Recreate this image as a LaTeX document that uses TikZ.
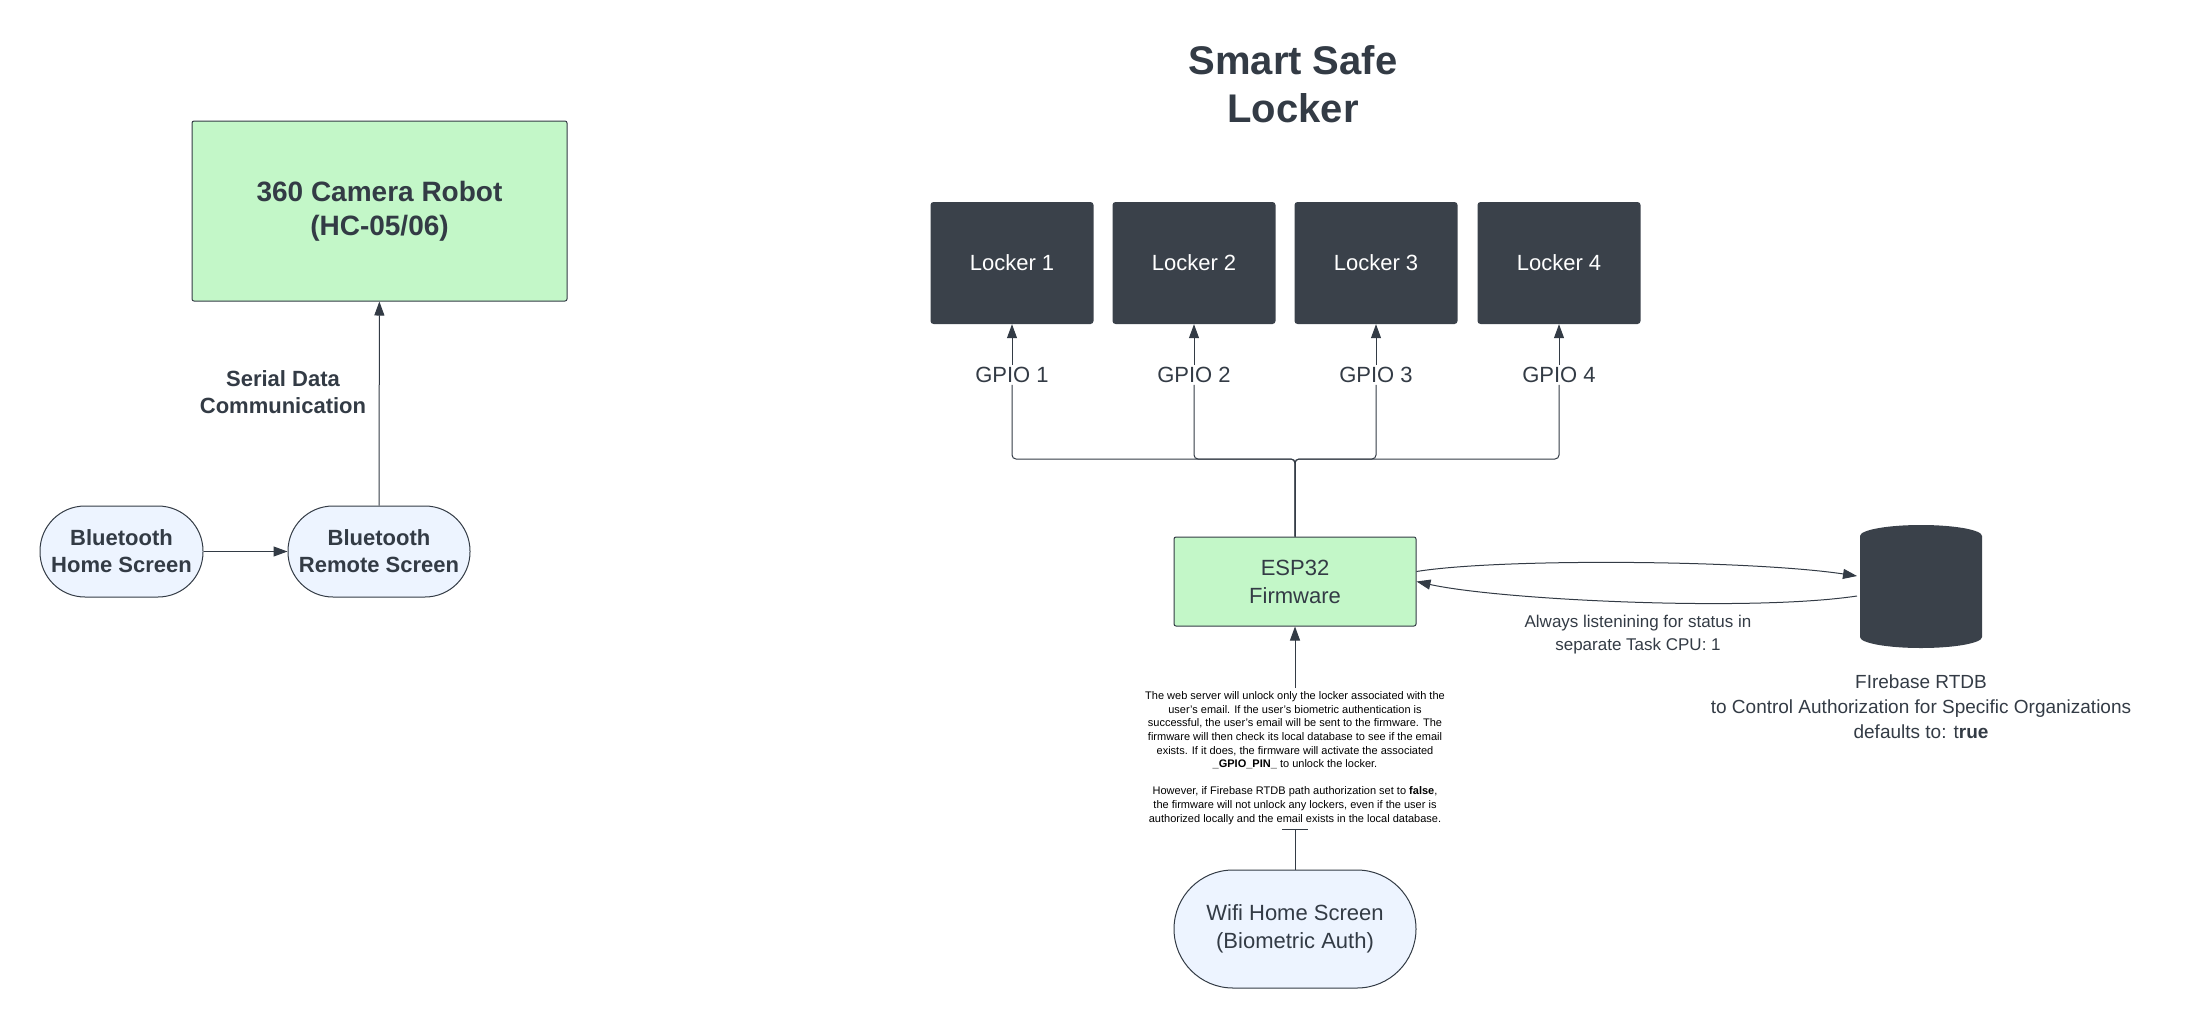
\documentclass[tikz,border=0pt]{standalone}
\usepackage{fontspec}
\setmainfont{Liberation Sans}
\usetikzlibrary{arrows.meta,shapes.geometric}
\definecolor{grn}{HTML}{C3F7C8}
\definecolor{lbl}{HTML}{EDF4FF}
\definecolor{drk}{HTML}{3A414A}
\definecolor{txt}{HTML}{333B45}
\begin{document}
\begin{tikzpicture}[x=1pt,y=-1pt,
  every node/.style={text=txt,align=center},
  ln/.style={draw=txt,line width=1pt},
  arr/.style={ln,-{Triangle[length=14pt,width=10pt]}},
  pill/.style={draw=txt,line width=1pt,fill=lbl,rounded corners=44pt,inner sep=0pt},
  grnbox/.style={draw=txt,line width=1pt,fill=grn,rounded corners=2pt,inner sep=0pt},
  locker/.style={fill=drk,rounded corners=3pt,minimum width=163pt,minimum height=122pt,text=white,font=\fontsize{22}{26}\selectfont},
  gp/.style={font=\fontsize{22}{26}\selectfont}]
\useasboundingbox (0,0) rectangle (2200,1017);
% left
\node[grnbox,minimum width=375pt,minimum height=180pt,font=\bfseries\fontsize{28}{34}\selectfont] (cam) at (379.5,211) {360 Camera Robot\\(HC-05/06)};
\node[pill,minimum width=163pt,minimum height=91pt,rounded corners=45pt,font=\bfseries\fontsize{22}{27}\selectfont] (bh) at (121.5,551.5) {Bluetooth\\Home Screen};
\node[pill,minimum width=182pt,minimum height=91pt,rounded corners=45pt,font=\bfseries\fontsize{22}{27}\selectfont] (br) at (379,551.5) {Bluetooth\\Remote Screen};
\draw[arr] (bh) -- (br);
\draw[arr] (br) -- (cam);
\node[font=\bfseries\fontsize{22}{27}\selectfont] (sd) at (283,392) {Serial Data\\Communication};
% title
\node[font=\bfseries\fontsize{40}{48}\selectfont] (title) at (1293,84) {Smart Safe\\Locker};
% lockers
\foreach \i/\x in {1/1012,2/1194,3/1376,4/1559}{
  \node[locker] (L\i) at (\x,263) {Locker \i};
  \node[gp,fill=white,inner sep=2pt] (G\i) at (\x,375) {GPIO \i};
}
\node[grnbox,minimum width=242pt,minimum height=89pt,font=\fontsize{22}{28}\selectfont] (esp) at (1295,581.5) {ESP32\\Firmware};
\coordinate (bus) at (1295,459);
\foreach \i in {1,...,4}{
  \draw[ln,rounded corners=4pt] (esp.north) -- (bus) -| (G\i.south);
  \draw[arr] (G\i.north) -- (L\i.south);
}
% database
\node[minimum width=122pt,minimum height=123pt,inner sep=0pt] (db) at (1921,586) {};
\fill[drk] (1860,536) arc[start angle=180,end angle=0,x radius=61,y radius=-11] -- (1982,637) arc[start angle=0,end angle=-180,x radius=61,y radius=-11] -- cycle;
\draw[arr] (esp.east) ++(0,-10) coordinate (e1) .. controls (1500,558) and (1750,560) .. (1857,576);
\draw[arr] (1857,596) .. controls (1750,612) and (1500,600) .. (esp.east);
\node[font=\fontsize{19}{25}\selectfont] (dbl) at (1921,707) {FIrebase RTDB\\to Control Authorization for Specific Organizations\\defaults to: t\textbf{rue}};
\node[font=\fontsize{17}{23}\selectfont] (al) at (1638,635) {Always listenining for status in\\separate Task CPU: 1};
% text block
\node[font=\fontsize{11}{13.6}\selectfont,text=black] (tb) at (1295,758) {The web server will unlock only the locker associated with the\\user's email. If the user's biometric authentication is\\successful, the user's email will be sent to the firmware. The\\firmware will then check its local database to see if the email\\exists. If it does, the firmware will activate the associated\\\textbf{\_GPIO\_PIN\_} to unlock the locker.\\[13.6pt]However, if Firebase RTDB path authorization set to \textbf{false},\\the firmware will not unlock any lockers, even if the user is\\authorized locally and the email exists in the local database.};
\node[pill,minimum width=242pt,minimum height=118pt,rounded corners=59pt,font=\fontsize{22}{28}\selectfont] (wifi) at (1295,929) {Wifi Home Screen\\(Biometric Auth)};
\coordinate (tbar) at (1295,829);
\draw[ln] (wifi.north) -- (tbar);
\draw[ln] (1282,829) -- (1308,829);
\draw[arr] (tb.north) -- (esp.south);
\end{tikzpicture}
\end{document}
